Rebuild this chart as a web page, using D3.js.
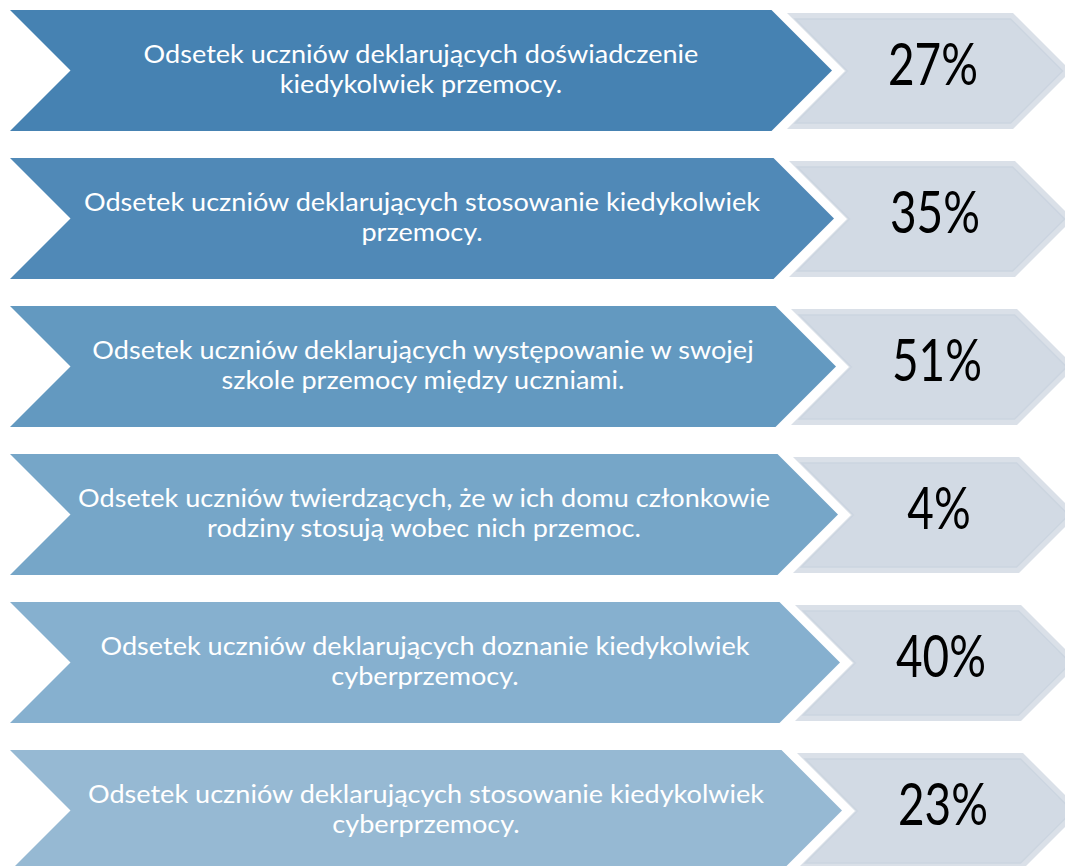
<!DOCTYPE html>
<meta charset="utf-8">
<style>
body {
    margin: 0px;
    background: #fff;
}
.label {
  font-family: Lato, sans-serif;
  font-size: 25px;
  fill: #fff;
}
.value {
  font-family: Lato, sans-serif;
  font-size: 59px;
  fill: #000;
}
</style>
<body>
<script src="https://d3js.org/d3.v7.min.js"></script>
<script>
var width = 1065,
    height = 866

// Row labels (two lines each)
var labels = [
    ["Odsetek uczniów deklarujących doświadczenie", "kiedykolwiek przemocy."],
    ["Odsetek uczniów deklarujących stosowanie kiedykolwiek", "przemocy."],
    ["Odsetek uczniów deklarujących występowanie w swojej", "szkole przemocy między uczniami."],
    ["Odsetek uczniów twierdzących, że w ich domu członkowie", "rodziny stosują wobec nich przemoc."],
    ["Odsetek uczniów deklarujących doznanie kiedykolwiek", "cyberprzemocy."],
    ["Odsetek uczniów deklarujących stosowanie kiedykolwiek", "cyberprzemocy."]
]

// Percent values
var values = [27, 35, 51, 4, 40, 23]

var rowColors = ["#4682b2", "#5089b7", "#6399c0", "#76a6c8", "#86b0cf", "#96b9d3"]

var rows = labels.map(function(d, i) { return i })

var y = d3.scaleBand()
    .domain(rows)
    .range([10, 10 + 148 * 6 - 27])
    .paddingInner(27 / 148)
    .paddingOuter(0)

var svg = d3.select("body").append("svg")
    .attr("width", width)
    .attr("height", height)

function chevron(x0, x1, top, h, notch) {
    var c = top + h / 2, d = h / 2
    return "M" + x0 + "," + top +
        "L" + (x1 - d) + "," + top +
        "L" + x1 + "," + c +
        "L" + (x1 - d) + "," + (top + h) +
        "L" + x0 + "," + (top + h) +
        (notch ? "L" + (x0 + d) + "," + c : "") + "Z"
}

var g = svg.selectAll("g.row")
    .data(rows)
    .enter()
    .append("g")
    .attr("class", "row")

// blue chevrons
g.append("path")
    .attr("d", function(i) { return chevron(10, 832 + 2 * i, y(i), y.bandwidth(), true) })
    .attr("fill", function(i) { return rowColors[i] })

// grey chevrons (outer + inset)
g.append("path")
    .attr("d", function(i) { return chevron(787 + 2 * i, 1071 + 2 * i, y(i) + 3, y.bandwidth() - 5, true) })
    .attr("fill", "#dae0e8")

g.append("path")
    .attr("d", function(i) {
        var t = y(i) + 3, h = y.bandwidth() - 5, ins = 6
        return chevron(787 + 2 * i + ins * 1.4, 1071 + 2 * i - ins * 1.4, t + ins, h - 2 * ins, true)
    })
    .attr("fill", "#d2dae4")
    .attr("stroke", "#ccd5e0")
    .attr("stroke-width", 1.5)

// labels
var lab = g.append("text")
    .attr("class", "label")
    .attr("text-anchor", "middle")

lab.selectAll("tspan")
    .data(function(i) { return labels[i] })
    .enter()
    .append("tspan")
    .attr("x", 0)
    .attr("y", function(d, j) { return j === 0 ? -8 : 22 })
    .text(function(d) { return d })

// horizontal fit of label font to the reference width of the first line
var w0 = lab.filter(function(i) { return i === 0 }).select("tspan").node().getComputedTextLength()
var kx = 555 / w0
lab.attr("transform", function(i) {
    return "translate(" + (421 + i) + "," + (y(i) + y.bandwidth() / 2) + ") scale(" + kx + ",1)"
})

// values
var val = g.append("text")
    .attr("class", "value")
    .attr("text-anchor", "middle")
    .text(function(i) { return values[i] + "%" })

var wv = val.filter(function(i) { return i === 0 }).node().getComputedTextLength()
var kv = 90 / wv
val.attr("transform", function(i) {
    return "translate(" + (933 + 2 * i) + "," + (y(i) + y.bandwidth() / 2 + 14) + ") scale(" + kv + ",1)"
})
</script>
